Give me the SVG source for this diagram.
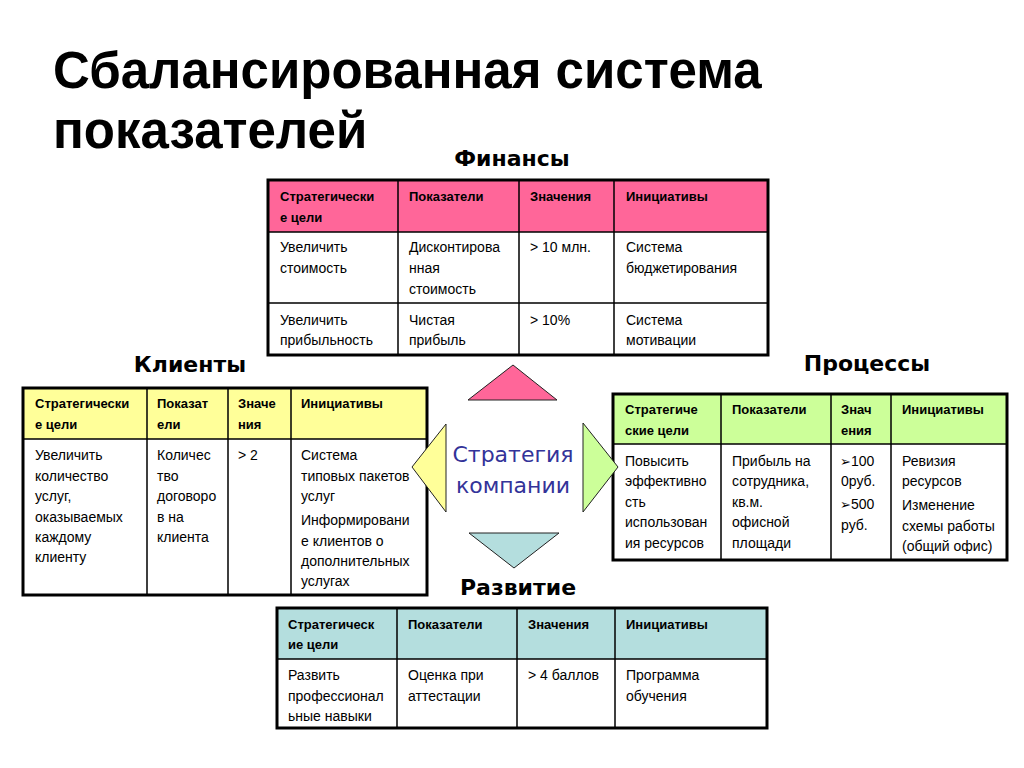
<svg xmlns="http://www.w3.org/2000/svg" width="1024" height="768" viewBox="0 0 1024 768">
<style>
.title{font-family:"Liberation Sans",Arial,sans-serif;font-weight:bold;font-size:51px;fill:#000}
.sec{font-family:"DejaVu Sans",Verdana,sans-serif;font-weight:bold;font-size:22px;fill:#000;text-anchor:middle}
.th{font-family:"Liberation Sans",Arial,sans-serif;font-weight:bold;font-size:13px;fill:#000}
.td{font-family:"Liberation Sans",Arial,"DejaVu Sans",sans-serif;font-size:14px;fill:#000}
.outer{fill:none;stroke:#000;stroke-width:3}
.grid{stroke:#000;stroke-width:1.5;fill:none}
.tri{stroke:#222;stroke-width:1}
.strat{font-family:"DejaVu Sans",Verdana,sans-serif;font-size:22px;fill:#333399;text-anchor:middle}
.bul{font-family:"DejaVu Sans",sans-serif;font-size:13px}
</style>
<rect width="1024" height="768" fill="#fff"/>
<g id="title">
<text class="title" x="53" y="88">Сбалансированная система</text>
<text class="title" x="53" y="148">показателей</text>
</g>
<g id="finance">
<text class="sec" x="512" y="166">Финансы</text>
<rect x="268" y="180" width="500" height="52" fill="#FF6699"/>
<rect x="268" y="232" width="500" height="123" fill="#fff"/>
<path class="grid" d="M268 232H768M268 303H768M398 180V355M519 180V355M614 180V355"/>
<rect class="outer" x="268" y="180" width="500" height="175"/>
<text class="th" x="280" y="201">Стратегически</text>
<text class="th" x="280" y="222">е цели</text>
<text class="th" x="409" y="201">Показатели</text>
<text class="th" x="530" y="201">Значения</text>
<text class="th" x="626" y="201">Инициативы</text>
<text class="td" x="280" y="252">Увеличить</text>
<text class="td" x="280" y="273">стоимость</text>
<text class="td" x="409" y="252">Дисконтирова</text>
<text class="td" x="409" y="273">нная</text>
<text class="td" x="409" y="294">стоимость</text>
<text class="td" x="530" y="252">&gt; 10 млн.</text>
<text class="td" x="626" y="252">Система</text>
<text class="td" x="626" y="273">бюджетирования</text>
<text class="td" x="280" y="325">Увеличить</text>
<text class="td" x="280" y="345">прибыльность</text>
<text class="td" x="409" y="325">Чистая</text>
<text class="td" x="409" y="345">прибыль</text>
<text class="td" x="530" y="325">&gt; 10%</text>
<text class="td" x="626" y="325">Система</text>
<text class="td" x="626" y="345">мотивации</text>
</g>
<g id="clients">
<text class="sec" x="190" y="372">Клиенты</text>
<rect x="23" y="388" width="404" height="51" fill="#FFFF99"/>
<rect x="23" y="439" width="404" height="156" fill="#fff"/>
<path class="grid" d="M23 439H427M147 388V595M228 388V595M291 388V595"/>
<rect class="outer" x="23" y="388" width="404" height="207"/>
<text class="th" x="35" y="408">Стратегически</text>
<text class="th" x="35" y="429">е цели</text>
<text class="th" x="157" y="408">Показат</text>
<text class="th" x="157" y="429">ели</text>
<text class="th" x="238" y="408">Значе</text>
<text class="th" x="238" y="429">ния</text>
<text class="th" x="301" y="408">Инициативы</text>
<text class="td" x="35" y="460">Увеличить</text>
<text class="td" x="35" y="481">количество</text>
<text class="td" x="35" y="501">услуг,</text>
<text class="td" x="35" y="522">оказываемых</text>
<text class="td" x="35" y="542">каждому</text>
<text class="td" x="35" y="562">клиенту</text>
<text class="td" x="157" y="460">Количес</text>
<text class="td" x="157" y="481">тво</text>
<text class="td" x="157" y="501">договоро</text>
<text class="td" x="157" y="522">в на</text>
<text class="td" x="157" y="542">клиента</text>
<text class="td" x="238" y="460">&gt; 2</text>
<text class="td" x="301" y="460">Система</text>
<text class="td" x="301" y="481">типовых пакетов</text>
<text class="td" x="301" y="501">услуг</text>
<text class="td" x="301" y="525">Информировани</text>
<text class="td" x="301" y="546">е клиентов о</text>
<text class="td" x="301" y="566">дополнительных</text>
<text class="td" x="301" y="586">услугах</text>
</g>
<g id="processes">
<text class="sec" x="867" y="371">Процессы</text>
<rect x="613" y="394" width="394" height="50" fill="#CCFF99"/>
<rect x="613" y="444" width="394" height="116" fill="#fff"/>
<path class="grid" d="M613 444H1007M721 394V560M831 394V560M891 394V560"/>
<rect class="outer" x="613" y="394" width="394" height="166"/>
<text class="th" x="625" y="414">Стратегиче</text>
<text class="th" x="625" y="435">ские цели</text>
<text class="th" x="732" y="414">Показатели</text>
<text class="th" x="841" y="414">Знач</text>
<text class="th" x="841" y="435">ения</text>
<text class="th" x="902" y="414">Инициативы</text>
<text class="td" x="625" y="466">Повысить</text>
<text class="td" x="625" y="486">эффективно</text>
<text class="td" x="625" y="507">сть</text>
<text class="td" x="625" y="527">использован</text>
<text class="td" x="625" y="548">ия ресурсов</text>
<text class="td" x="732" y="466">Прибыль на</text>
<text class="td" x="732" y="486">сотрудника,</text>
<text class="td" x="732" y="507">кв.м.</text>
<text class="td" x="732" y="527">офисной</text>
<text class="td" x="732" y="548">площади</text>
<text class="td" x="840" y="466"><tspan class="bul">➢</tspan>100</text>
<text class="td" x="841" y="486">0руб.</text>
<text class="td" x="840" y="509"><tspan class="bul">➢</tspan>500</text>
<text class="td" x="841" y="530">руб.</text>
<text class="td" x="902" y="466">Ревизия</text>
<text class="td" x="902" y="486">ресурсов</text>
<text class="td" x="902" y="510">Изменение</text>
<text class="td" x="902" y="531">схемы работы</text>
<text class="td" x="902" y="551">(общий офис)</text>
</g>
<g id="development">
<text class="sec" x="518" y="595">Развитие</text>
<rect x="277" y="608" width="490" height="51" fill="#B4DEDE"/>
<rect x="277" y="659" width="490" height="69" fill="#fff"/>
<path class="grid" d="M277 659H767M397 608V728M517 608V728M615 608V728"/>
<rect class="outer" x="277" y="608" width="490" height="120"/>
<text class="th" x="288" y="629">Стратегическ</text>
<text class="th" x="288" y="649">ие цели</text>
<text class="th" x="408" y="629">Показатели</text>
<text class="th" x="528" y="629">Значения</text>
<text class="th" x="626" y="629">Инициативы</text>
<text class="td" x="288" y="680">Развить</text>
<text class="td" x="288" y="701">профессионал</text>
<text class="td" x="288" y="721">ьные навыки</text>
<text class="td" x="408" y="680">Оценка при</text>
<text class="td" x="408" y="701">аттестации</text>
<text class="td" x="528" y="680">&gt; 4 баллов</text>
<text class="td" x="626" y="680">Программа</text>
<text class="td" x="626" y="701">обучения</text>
</g>
<g id="strategy">
<text class="strat" x="513" y="462">Стратегия</text>
<text class="strat" x="513" y="493">компании</text>
</g>
<g id="connectors">
<polygon class="tri" points="513,365 468,400 557,400" fill="#FF6699"/>
<polygon class="tri" points="469,533 559,533 514,568" fill="#B4DEDE"/>
<polygon class="tri" points="412,467 446,424 446,512" fill="#FFFF99"/>
<polygon class="tri" points="583,423 583,512 618,467" fill="#CCFF99"/>
</g>
</svg>
